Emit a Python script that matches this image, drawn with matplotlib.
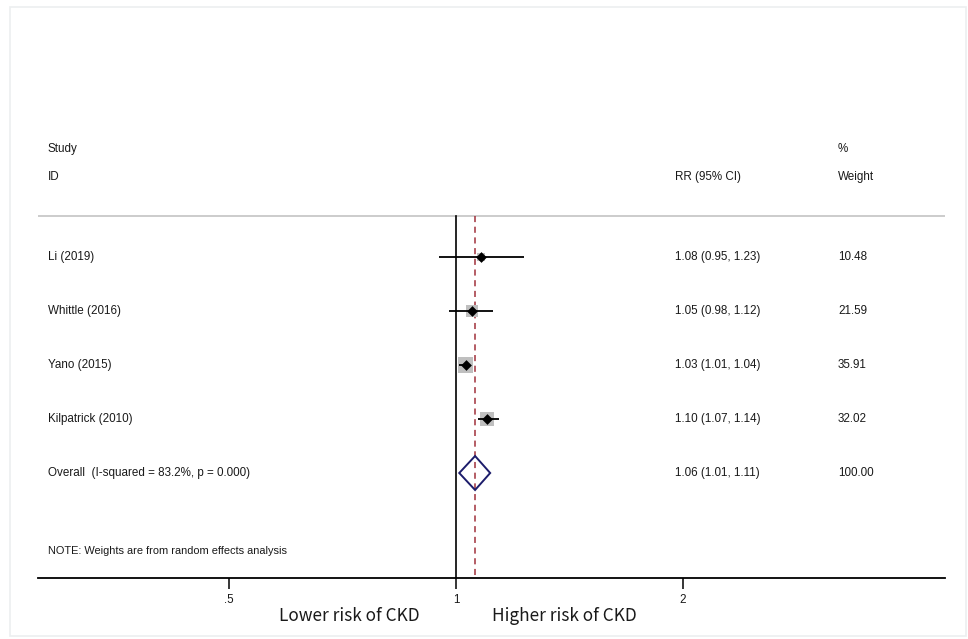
import matplotlib
matplotlib.use("Agg")
import matplotlib.pyplot as plt
import matplotlib.transforms as mtransforms
from matplotlib.patches import Polygon, Rectangle
import numpy as np

# ---- data ----
studies = ["Li (2019)", "Whittle (2016)", "Yano (2015)", "Kilpatrick (2010)"]
rr = [1.08, 1.05, 1.03, 1.10]
lo = [0.95, 0.98, 1.01, 1.07]
hi = [1.23, 1.12, 1.04, 1.14]
weights = [10.48, 21.59, 35.91, 32.02]
overall_label = "Overall  (I-squared = 83.2%, p = 0.000)"
overall = (1.06, 1.01, 1.11)
overall_weight = 100.00
tick_vals = [0.5, 1, 2]
tick_labels = [".5", "1", "2"]

W, H = 968, 639
fig = plt.figure(figsize=(W / 100, H / 100), dpi=100)
fig.patch.set_facecolor("white")
fig.patches.append(Rectangle((10 / W, 1 - 636 / H), 956 / W, 629 / H,
                             transform=fig.transFigure, fill=False,
                             edgecolor="#eceff0", lw=1.2))

ax_l, ax_r, ax_b, ax_t = 38, 945, 578, 8
ax = fig.add_axes([ax_l / W, 1 - ax_b / H, (ax_r - ax_l) / W, (ax_b - ax_t) / H])
ax.set_xscale("log", base=2)
# x pixel = 456 + 227*log2(x)
xmin = 2 ** ((ax_l - 456) / 227)
xmax = 2 ** ((ax_r - 456) / 227)
ax.set_xlim(xmin, xmax)
ymin_row = (ax_b - 203) / 54
ymax_row = (ax_t - 203) / 54
ax.set_ylim(ymin_row, ymax_row)

for s in ["top", "right", "left"]:
    ax.spines[s].set_visible(False)
ax.spines["bottom"].set_linewidth(1.3)
ax.set_yticks([])
ax.set_xticks(tick_vals)
ax.set_xticklabels(tick_labels)
ax.xaxis.set_minor_locator(matplotlib.ticker.NullLocator())
ax.tick_params(axis="x", length=8, width=1.1, pad=3.5, labelsize=8.4, labelcolor="#1a1a1a")
for t in ax.get_xticklabels():
    t.set_fontfamily("Liberation Sans")

font = "Liberation Sans"
fs = 8.4
tc = "#1a1a1a"
tr = mtransforms.blended_transform_factory(ax.transAxes, ax.transData)


def txt(x, y, s, size=fs):
    ax.text(x, y, s, transform=tr, fontsize=size, family=font, va="center", color=tc)


line_y = (216 - 203) / 54
ax.axhline(line_y, color="#c4c4c4", lw=1.2)

# headers
txt(0.011, -1.0, "Study")
txt(0.011, -0.48, "ID")
txt(0.702, -0.48, "RR (95% CI)")
txt(0.882, -1.0, "%")
txt(0.882, -0.48, "Weight")

# reference lines
ax.plot([1, 1], [line_y, ymin_row], color="black", lw=1.2, zorder=2)
ax.plot([overall[0], overall[0]], [line_y, ymin_row], color="#a0303a", lw=1.1,
        ls=(0, (4, 3)), zorder=2)

rows = np.arange(1, len(studies) + 1)
ax.scatter(rr, rows, marker="s", s=[3.4 * w for w in weights], color="#bfbfbf",
           zorder=3, linewidths=0)
ax.hlines(rows, lo, hi, color="black", lw=1.3, zorder=4)
ax.scatter(rr, rows, marker="D", s=30, color="black", zorder=5, linewidths=0)

for i, r in enumerate(rows):
    txt(0.011, r, studies[i])
    txt(0.702, r, f"{rr[i]:.2f} ({lo[i]:.2f}, {hi[i]:.2f})")
    txt(0.882, r, f"{weights[i]:.2f}")

orow = len(studies) + 1
h = 17 / 54
est, olo, ohi = overall
ax.add_patch(Polygon([(olo, orow), (est, orow - h), (ohi, orow), (est, orow + h)],
                     closed=True, fill=False, edgecolor="#1c1c6b", lw=1.4, zorder=5))
txt(0.011, orow, overall_label)
txt(0.702, orow, f"{est:.2f} ({olo:.2f}, {ohi:.2f})")
txt(0.882, orow, f"{overall_weight:.2f}")

txt(0.011, (551 - 203) / 54, "NOTE: Weights are from random effects analysis", size=7.9)

fig.text(349 / W, 1 - 616 / H, "Lower risk of CKD", ha="center", va="center",
         fontsize=12.4, family=["Noto Sans CJK SC", "DejaVu Sans"], color=tc)
fig.text(564 / W, 1 - 616 / H, "Higher risk of CKD", ha="center", va="center",
         fontsize=12.4, family=["Noto Sans CJK SC", "DejaVu Sans"], color=tc)

fig.savefig("out.png", dpi=100, facecolor="white")
